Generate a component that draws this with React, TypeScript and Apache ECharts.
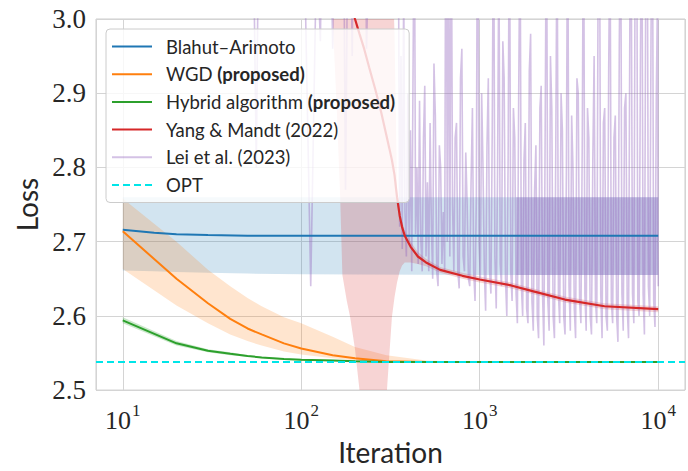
import React, { useEffect, useRef } from 'react';
import * as echarts from 'echarts';

// ---------- data ----------
const X_MIN = Math.pow(10, 0.85);
const X_MAX = Math.pow(10, 4.15);
const yTicks = [2.5, 2.6, 2.7, 2.8, 2.9, 3.0];

const legendNames = [
  'Blahut–Arimoto',
  'WGD (proposed)',
  'Hybrid algorithm (proposed)',
  'Yang & Mandt (2022)',
  'Lei et al. (2023)',
  'OPT',
];

// Blahut–Arimoto
const baIter = [10, 15, 20, 30, 50, 100, 1000, 10000];
const baLoss = [2.716, 2.712, 2.71, 2.709, 2.708, 2.708, 2.708, 2.708];
const baLower = [2.661, 2.66, 2.659, 2.658, 2.657, 2.656, 2.655, 2.655];
const baUpper = [2.76, 2.76, 2.76, 2.76, 2.76, 2.76, 2.76, 2.76];

// WGD (proposed)
const wgdIter = [10, 20, 30, 40, 50, 60, 80, 100, 150, 200, 300, 500, 1000, 10000];
const wgdLoss = [2.714, 2.65, 2.617, 2.596, 2.583, 2.575, 2.563, 2.556, 2.547, 2.543, 2.539, 2.538, 2.538, 2.538];
const wgdUpper = [2.758, 2.7, 2.662, 2.64, 2.624, 2.613, 2.598, 2.59, 2.572, 2.558, 2.547, 2.54, 2.538, 2.538];
const wgdLower = [2.663, 2.614, 2.59, 2.575, 2.566, 2.56, 2.552, 2.548, 2.543, 2.54, 2.538, 2.537, 2.537, 2.537];

// Hybrid algorithm (proposed)
const hybIter = [10, 20, 30, 40, 50, 60, 80, 100, 150, 200, 300, 1000, 10000];
const hybLoss = [2.594, 2.563, 2.553, 2.549, 2.546, 2.544, 2.542, 2.541, 2.54, 2.539, 2.538, 2.538, 2.538];
const hybUpper = [2.598, 2.566, 2.555, 2.551, 2.547, 2.545, 2.543, 2.542, 2.541, 2.54, 2.539, 2.539, 2.539];
const hybLower = [2.59, 2.56, 2.551, 2.547, 2.545, 2.543, 2.541, 2.54, 2.539, 2.538, 2.537, 2.537, 2.537];

// Yang & Mandt (2022)
const ymIter = [10, 50, 100, 130, 140, 150, 158, 165, 170, 180, 188, 200, 212, 225, 240, 260, 280, 302, 312, 322, 333, 344, 356, 367, 380, 410, 450, 500, 600, 800, 1000, 1500, 2000, 3000, 5000, 10000];
const ymLoss = [3.8, 3.5, 3.3, 3.2, 3.15, 3.12, 3.095, 3.075, 3.06, 3.04, 3.025, 3.0, 2.98, 2.96, 2.935, 2.905, 2.875, 2.84, 2.825, 2.81, 2.79, 2.76, 2.735, 2.72, 2.708, 2.693, 2.68, 2.672, 2.662, 2.654, 2.649, 2.641, 2.633, 2.622, 2.613, 2.609];
const ymLower = [3.6, 3.4, 3.2, 3.08, 3.04, 3.0, 2.88, 2.764, 2.655, 2.62, 2.598, 2.555, 2.5, 2.46, 2.44, 2.44, 2.46, 2.5, 2.55, 2.598, 2.625, 2.645, 2.66, 2.668, 2.672, 2.672, 2.67, 2.667, 2.658, 2.65, 2.645, 2.637, 2.629, 2.618, 2.609, 2.605];
const ymUpper = [4.0, 3.8, 3.6, 3.5, 3.5, 3.5, 3.5, 3.5, 3.5, 3.5, 3.5, 3.5, 3.5, 3.5, 3.5, 3.5, 3.5, 3.5, 3.3, 3.1, 2.98, 2.77, 2.745, 2.728, 2.716, 2.7, 2.686, 2.677, 2.666, 2.658, 2.653, 2.645, 2.637, 2.626, 2.617, 2.613];

// Lei et al. (2023): noisy trace [iteration, loss]
const leiPoints = [
  [50, 3.3], [54, 3.1], [56, 2.8], [58, 3.2], [63, 3.4], [68, 3.05], [72, 3.3], [80, 3.5], [95, 3.4], [104, 3.1],
  [113, 2.64], [122, 3.1], [128, 2.97], [135, 3.4], [142, 3.3], [150, 2.96], [158, 3.4], [165, 3.6], [172, 3.2], [177, 2.77],
  [185, 3.3], [193, 2.95], [200, 3.5], [210, 3.3], [220, 3.6], [232, 2.96], [240, 3.1], [260, 3.6], [280, 3.3], [300, 3.5],
  [320, 3.2], [335, 3.4],
  [350, 3.1], [356, 2.72], [362, 2.95], [368, 2.69], [375, 3.05], [381, 2.74], [388, 2.68], [395, 2.9], [402, 2.7], [409, 2.85],
  [416, 2.66], [423, 2.93], [430, 3.2], [437, 2.71], [445, 2.8], [452, 2.67], [460, 2.89], [468, 2.7], [476, 2.66], [484, 2.84],
  [492, 2.91], [500, 2.68], [509, 2.78], [518, 2.66], [527, 2.86], [536, 2.72], [545, 2.65], [554, 2.94], [564, 2.87], [574, 2.66],
  [584, 2.64], [594, 2.83], [604, 2.8], [614, 2.67], [625, 2.74], [636, 2.66], [647, 3.3], [658, 2.7], [669, 3.15], [680, 2.68],
  [692, 3.2], [704, 2.75], [716, 2.66], [728, 2.84], [741, 2.86], [754, 2.66], [767, 2.637], [780, 2.92], [794, 2.96], [807, 2.68],
  [821, 2.66], [835, 2.82], [850, 2.75], [864, 2.65], [879, 2.64], [894, 2.78], [910, 2.88], [925, 2.66], [941, 2.62], [957, 2.76],
  [974, 3.3], [991, 2.7], [1008, 2.65], [1025, 2.9], [1043, 2.8], [1061, 2.66], [1079, 2.607], [1098, 2.83], [1117, 2.92], [1136, 2.66],
  [1155, 2.63], [1175, 2.85], [1195, 3.2], [1216, 2.68], [1237, 2.61], [1258, 2.79], [1280, 3.1], [1302, 2.67], [1324, 2.64], [1347, 2.97],
  [1370, 2.92], [1394, 2.65], [1418, 2.6], [1442, 2.81], [1467, 3.2], [1492, 2.66], [1518, 2.62], [1544, 2.88], [1571, 2.84], [1598, 2.63],
  [1625, 2.59], [1653, 2.9], [1682, 3.15], [1711, 2.64], [1740, 2.6], [1770, 2.81], [1800, 2.86], [1831, 2.61], [1863, 2.59], [1895, 2.93],
  [1928, 2.98], [1961, 2.62], [1995, 2.58], [2029, 2.77], [2064, 2.83], [2100, 2.6], [2136, 2.57], [2173, 2.88], [2210, 2.91], [2248, 2.63],
  [2287, 2.56], [2326, 2.85], [2366, 3.2], [2407, 2.62], [2448, 2.58], [2490, 2.95], [2533, 2.88], [2577, 2.6], [2621, 2.57], [2666, 2.82],
  [2712, 3.15], [2759, 2.63], [2806, 2.59], [2855, 2.9], [2904, 2.85], [2954, 2.6], [3005, 2.575], [3057, 2.79], [3109, 3.2], [3163, 2.64],
  [3217, 2.58], [3273, 2.87], [3329, 2.8], [3386, 2.61], [3444, 2.57], [3504, 2.92], [3564, 2.9], [3626, 2.62], [3688, 2.59], [3752, 2.83],
  [3816, 3.2], [3882, 2.63], [3948, 2.58], [4016, 2.88], [4085, 2.84], [4156, 2.6], [4227, 2.575], [4300, 2.81], [4374, 2.95], [4450, 2.62],
  [4526, 2.59], [4604, 3.05], [4683, 3.2], [4764, 2.63], [4846, 2.57], [4930, 2.86], [5014, 2.88], [5101, 2.6], [5188, 2.58], [5278, 2.93],
  [5368, 3.15], [5461, 2.62], [5555, 2.59], [5651, 2.84], [5748, 2.87], [5847, 2.6], [5947, 2.565], [6050, 2.96], [6154, 3.2], [6261, 2.63],
  [6368, 2.58], [6478, 2.88], [6589, 2.9], [6703, 2.61], [6818, 2.57], [6936, 3.0], [7054, 3.1], [7177, 2.63], [7300, 2.59], [7426, 3.1],
  [7553, 3.3], [7684, 2.62], [7815, 2.6], [7951, 2.95], [8087, 3.2], [8227, 2.63], [8368, 2.575], [8513, 3.05], [8658, 3.25], [8808, 2.64],
  [8959, 2.6], [9114, 2.98], [9270, 3.2], [9431, 2.62], [9592, 2.585], [9758, 2.9], [9925, 3.05], [9962, 2.7], [10000, 2.64],
];
const leiBandIter = [1600, 10000];
const leiBandLower = [2.655, 2.655];
const leiBandUpper = [2.76, 2.76];

const optLoss = 2.538;

// ---------- styles ----------
const C_BLUE = '#1f77b4';
const C_ORANGE = '#ff7f0e';
const C_GREEN = '#2ca02c';
const C_RED = '#d62728';
const C_LEI = 'rgba(148,103,189,0.4)';
const C_OPT = '#00e5e8';
const TXT = '#262626';
const SANS = 'Lato';
const SERIF = 'Liberation Serif';
const DASH_ICON = 'path://M0,0h7v2h-7z M11,0h7v2h-7z M22,0h7v2h-7z M33,0h7v2h-7z';

function bandSeries(key: string, iters: number[], lower: number[], upper: number[], fill: string) {
  return {
    name: key + '-band',
    type: 'custom',
    silent: true,
    clip: true,
    z: 1,
    data: [[iters[0], lower[0]]],
    encode: { x: 0, y: 1 },
    renderItem: (_params: any, api: any) => {
      const pts: number[][] = [];
      for (let i = 0; i < iters.length; i++) pts.push(api.coord([iters[i], upper[i]]));
      for (let i = iters.length - 1; i >= 0; i--) pts.push(api.coord([iters[i], lower[i]]));
      return { type: 'polygon', shape: { points: pts }, style: { fill, stroke: 'none' } };
    },
  };
}

function lineSeries(name: string, iters: number[], vals: number[], color: string, width: number, z = 3) {
  return {
    name, type: 'line', symbol: 'none', z,
    data: iters.map((x, i) => [x, vals[i]]),
    lineStyle: { color, width },
    itemStyle: { color },
  };
}

function buildOption() {
  return {
    animation: false,
    backgroundColor: '#ffffff',
    grid: { left: 96, top: 19, width: 595, height: 383, show: true, borderColor: '#cccccc', borderWidth: 1, containLabel: false },
    legend: {
      data: legendNames.map((n) => ({ name: n, icon: n === 'OPT' ? DASH_ICON : 'rect' })),
      orient: 'vertical',
      left: 106,
      top: 29,
      itemWidth: 40,
      itemHeight: 2,
      itemGap: 8.7,
      selectedMode: false,
      backgroundColor: 'rgba(255,255,255,0.8)',
      borderColor: '#cccccc',
      borderWidth: 1,
      borderRadius: 4,
      padding: [8, 14, 8, 6],
      formatter: (name: string) => {
        const m = name.match(/^(.*) \(proposed\)$/);
        if (m) return '{r|' + m[1] + ' }{b|(proposed)}';
        return '{r|' + name + '}';
      },
      textStyle: {
        fontFamily: SANS, fontSize: 18.5, color: TXT, padding: [0, 0, 0, 9],
        rich: {
          r: { fontFamily: SANS, fontSize: 18.5, color: TXT },
          b: { fontFamily: SANS, fontSize: 18.5, color: TXT, fontWeight: 'bold' },
        },
      },
    },
    xAxis: {
      type: 'log',
      logBase: 10,
      min: X_MIN,
      max: X_MAX,
      name: 'Iteration',
      nameLocation: 'middle',
      nameGap: 47,
      nameTextStyle: { fontFamily: SANS, fontSize: 28, color: TXT },
      axisLine: { show: false },
      axisTick: { show: false },
      splitLine: { show: true, lineStyle: { color: '#d4d4d4', width: 1 } },
      axisLabel: {
        margin: 12,
        formatter: (v: number) => {
          const e = Math.log10(v);
          const r = Math.round(e);
          if (Math.abs(e - r) > 1e-6) return '';
          return '{b|10}{s|' + r + '}';
        },
        rich: {
          b: { fontFamily: SERIF, fontSize: 26, color: TXT, verticalAlign: 'bottom' },
          s: { fontFamily: SERIF, fontSize: 17, color: TXT, verticalAlign: 'bottom', padding: [0, 0, 14, 1] },
        },
      },
    },
    yAxis: {
      type: 'value',
      min: yTicks[0],
      max: yTicks[yTicks.length - 1],
      interval: 0.1,
      name: 'Loss',
      nameLocation: 'middle',
      nameRotate: 90,
      nameGap: 46,
      nameTextStyle: { fontFamily: SANS, fontSize: 28, color: TXT },
      axisLine: { show: false },
      axisTick: { show: false },
      splitLine: { show: true, lineStyle: { color: '#d4d4d4', width: 1 } },
      axisLabel: {
        margin: 10,
        formatter: (v: number) => '{t|' + v.toFixed(1) + '}',
        rich: { t: { fontFamily: SERIF, fontSize: 27, color: TXT } },
      },
    },
    series: [
      bandSeries('ba', baIter, baLower, baUpper, 'rgba(31,119,180,0.2)'),
      bandSeries('wgd', wgdIter, wgdLower, wgdUpper, 'rgba(255,127,14,0.2)'),
      bandSeries('hyb', hybIter, hybLower, hybUpper, 'rgba(44,160,44,0.25)'),
      bandSeries('ym', ymIter, ymLower, ymUpper, 'rgba(214,39,40,0.2)'),
      bandSeries('lei', leiBandIter, leiBandLower, leiBandUpper, 'rgba(148,103,189,0.3)'),
      {
        name: 'Lei et al. (2023)', type: 'line', symbol: 'none', z: 2,
        data: leiPoints,
        lineStyle: { color: C_LEI, width: 1.6 },
        itemStyle: { color: C_LEI },
      },
      lineSeries('Blahut–Arimoto', baIter, baLoss, C_BLUE, 2),
      lineSeries('WGD (proposed)', wgdIter, wgdLoss, C_ORANGE, 2),
      lineSeries('Hybrid algorithm (proposed)', hybIter, hybLoss, C_GREEN, 2),
      lineSeries('Yang & Mandt (2022)', ymIter, ymLoss, C_RED, 2.2),
      {
        name: 'OPT', type: 'line', symbol: 'none', z: 4,
        data: [[X_MIN, optLoss], [X_MAX, optLoss]],
        lineStyle: { color: C_OPT, width: 2, type: [7, 4] },
        itemStyle: { color: C_OPT },
      },
    ],
  };
}

export default function App() {
  const ref = useRef<HTMLDivElement>(null);
  useEffect(() => {
    if (!ref.current) return;
    const chart = echarts.init(ref.current, null, { renderer: 'svg' });
    chart.setOption(buildOption() as any);
    return () => chart.dispose();
  }, []);
  return (
    <div
      ref={ref}
      style={{ position: 'fixed', left: 0, top: 0, width: 688, height: 471, background: '#ffffff' }}
    />
  );
}
